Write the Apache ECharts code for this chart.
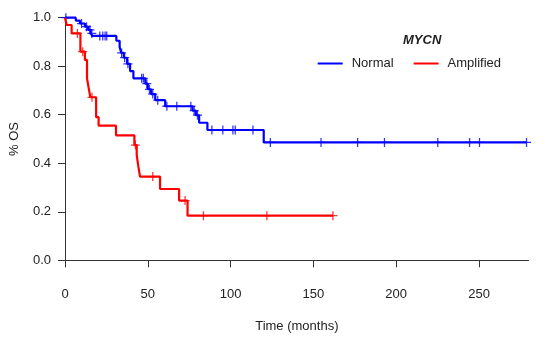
<!DOCTYPE html>
<html>
<head>
<meta charset="utf-8">
<script src="https://cdn.jsdelivr.net/npm/echarts@6/dist/echarts.min.js"></script>
<style>html,body{margin:0;padding:0;background:#fff}#c{width:550px;height:341px}</style>
</head>
<body>
<div id="c"></div>
<script>
// Kaplan-Meier steps: [time (months), survival after event]
const normalEvents = [[6.5,0.988],[9,0.976],[12,0.963],[14,0.950],[15.5,0.935],[16.5,0.925],[31,0.905],[33,0.878],[34,0.855],[35.5,0.835],[37.5,0.81],[39.3,0.78],[41.3,0.75],[48.5,0.728],[50,0.705],[52,0.685],[54.5,0.66],[60.5,0.635],[77,0.617],[79,0.598],[81,0.567],[86,0.537],[120,0.486]];
const normalCensor = [0.5,10,13,15,16.2,21,22.8,24.2,25.2,34.2,36,38,46.3,47.3,49.4,51,53,56,61.5,67.5,76,78,80,88.7,95.3,101.4,102.8,113.5,124,154.6,176.7,192.9,225.1,244.3,250.3,278.7];
const amplifiedEvents = [[1,0.97],[4,0.935],[9.3,0.86],[12,0.826],[13.3,0.75],[14.3,0.71],[15.3,0.672],[18.8,0.59],[20.3,0.555],[30.8,0.515],[41.9,0.475],[43.3,0.434],[44.3,0.386],[45.3,0.345],[57.4,0.294],[68.9,0.246],[74,0.184]];
const amplifiedCensor = [7.5,10.7,16.3,42.5,53,72.5,83.6,121.9,161.8];
const xTicks = [0,50,100,150,200,250];
const yTicks = [0,0.2,0.4,0.6,0.8,1.0];
const seriesNames = ['Normal','Amplified'];
const colors = ['#0000ff','#ff0000'];

function survAt(events, t){ let s = 1; for (const e of events){ if (e[0] <= t) s = e[1]; } return s; }
function stepData(events, censor){
  const last = censor[censor.length-1];
  return [[0,1]].concat(events).concat([[last, survAt(events,last)]]);
}
function censorData(events, censor){ return censor.map(t => [t, survAt(events,t)]); }

const plus = 'path://M-0.14,-1h0.28v2h-0.28z M-1,-0.14h2v0.28h-2z';
const font = 'Liberation Sans';
const chart = echarts.init(document.getElementById('c'), null, {renderer:'canvas'});
chart.setOption({
  animation:false,
  textStyle:{fontFamily:font},
  grid:{left:65, right:21.3, top:17.7, bottom:80.7},
  legend:{
    data:seriesNames, left:312.7, top:52, icon:'rect', itemWidth:25, itemHeight:2, itemGap:20,
    textStyle:{fontSize:13, color:'#222', fontFamily:font, padding:[0,0,0,4]}
  },
  graphic:[{type:'text', left:403, top:34, style:{text:'MYCN', font:'italic bold 13px "Liberation Sans"', fill:'#222'}}],
  xAxis:{
    type:'value', min:0, max:280, offset:10,
    name:'Time (months)', nameLocation:'middle', nameGap:50,
    nameTextStyle:{fontSize:13, color:'#222', fontFamily:font},
    axisLine:{show:true, lineStyle:{color:'#333', width:1}},
    axisTick:{show:true, length:7, customValues:xTicks, lineStyle:{color:'#333'}},
    axisLabel:{customValues:xTicks, fontSize:13, color:'#222', margin:18, fontFamily:font},
    splitLine:{show:false}
  },
  yAxis:{
    type:'value', min:0, max:1,
    name:'% OS', nameLocation:'middle', nameGap:44, nameRotate:90,
    nameTextStyle:{fontSize:13, color:'#222', fontFamily:font},
    axisLine:{show:true, lineStyle:{color:'#333', width:1}},
    axisTick:{show:true, length:7, customValues:yTicks, lineStyle:{color:'#333'}},
    axisLabel:{customValues:yTicks, fontSize:13, color:'#222', margin:14, fontFamily:font, formatter:v => v.toFixed(1)},
    splitLine:{show:false}
  },
  series:[
    {name:seriesNames[0], type:'line', step:'end', showSymbol:false, symbol:'none', clip:false,
     data:stepData(normalEvents, normalCensor), lineStyle:{color:colors[0], width:2.2}, itemStyle:{color:colors[0]}},
    {name:seriesNames[1], type:'line', step:'end', showSymbol:false, symbol:'none', clip:false,
     data:stepData(amplifiedEvents, amplifiedCensor), lineStyle:{color:colors[1], width:2.2}, itemStyle:{color:colors[1]}},
    {name:seriesNames[0], type:'scatter', symbol:plus, symbolSize:9, clip:false,
     data:censorData(normalEvents, normalCensor), itemStyle:{color:colors[0]}},
    {name:seriesNames[1], type:'scatter', symbol:plus, symbolSize:9, clip:false,
     data:censorData(amplifiedEvents, amplifiedCensor), itemStyle:{color:colors[1]}}
  ]
});
</script>
</body>
</html>
